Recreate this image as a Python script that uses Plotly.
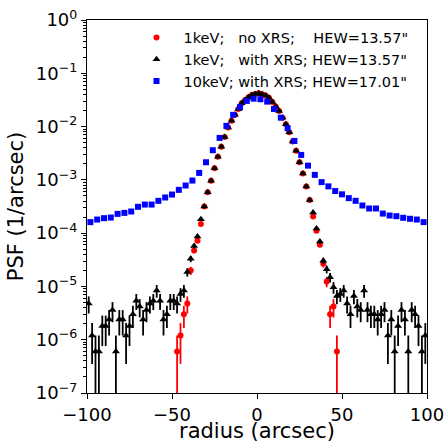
import numpy as np
import plotly.graph_objects as go

# ---------------- data ----------------
radius_2 = list(range(-99, 100, 2))          # 2-arcsec bins (1 keV curves)
radius_4 = list(range(-98, 99, 4))           # 4-arcsec bins (10 keV curve)

psf_1kev_xrs = [
    4.8e-6, 1.2e-6, 6.0e-7, 6.0e-7, 1.8e-6, 1.8e-6, 2.4e-6, 3.6e-6, 6.0e-7, 2.4e-6,
    2.4e-6, 1.2e-6, 1.8e-6, 3.0e-6, 5.4e-6, 4.2e-6, 2.4e-6, 3.6e-6, 4.8e-6, 5.4e-6,
    8.4e-6, 5.4e-6, 2.4e-6, 3.0e-6, 5.4e-6, 5.4e-6, 4.8e-6, 7.2e-6, 8.4e-6, 1.86e-5,
    3.30e-5, 5.71e-5, 8.65e-5, 1.83e-4, 3.15e-4, 5.87e-4, 9.57e-4, 1.66e-3, 2.70e-3, 4.16e-3,
    6.40e-3, 9.64e-3, 1.28e-2, 1.66e-2, 2.14e-2, 2.74e-2, 3.16e-2, 3.56e-2, 3.93e-2, 4.10e-2,
    4.22e-2, 4.04e-2, 3.81e-2, 3.49e-2, 2.90e-2, 2.39e-2, 1.97e-2, 1.47e-2, 1.11e-2, 7.84e-3,
    5.22e-3, 3.50e-3, 2.13e-3, 1.32e-3, 7.48e-4, 4.18e-4, 2.45e-4, 1.22e-4, 6.97e-5, 3.03e-5,
    2.11e-5, 1.49e-5, 9.7e-6, 6.6e-6, 7.2e-6, 8.4e-6, 4.8e-6, 3.0e-6, 6.6e-6, 4.2e-6,
    3.6e-6, 8.4e-6, 3.6e-6, 3.0e-6, 3.0e-6, 2.4e-6, 3.0e-6, 3.6e-6, 1.2e-6, 2.4e-6,
    6.0e-7, 1.8e-6, 3.6e-6, 2.4e-6, 6.0e-7, 3.6e-6, 3.0e-6, 1.8e-6, 6.0e-7, 1.2e-6,
]

psf_1kev_noxrs = [
    None, None, None, None, None, None, None, None, None, None,
    None, None, None, None, None, None, None, None, None, None,
    None, None, None, None, None, None, 6.0e-7, 1.2e-6, 3.0e-6, 4.8e-6,
    1.99e-5, 4.72e-5, 7.18e-5, 1.48e-4, 3.15e-4, 5.87e-4, 9.57e-4, 1.66e-3, 2.70e-3, 4.16e-3,
    6.40e-3, 9.64e-3, 1.28e-2, 1.66e-2, 2.14e-2, 2.74e-2, 3.16e-2, 3.56e-2, 3.93e-2, 4.10e-2,
    4.22e-2, 4.04e-2, 3.81e-2, 3.49e-2, 2.90e-2, 2.39e-2, 1.97e-2, 1.47e-2, 1.11e-2, 7.84e-3,
    5.22e-3, 3.50e-3, 2.13e-3, 1.32e-3, 7.48e-4, 4.18e-4, 2.05e-4, 1.11e-4, 6.04e-5, 2.66e-5,
    1.24e-5, 3.0e-6, 4.2e-6, 6.0e-7, None, None, None, None, None, None,
    None, None, None, None, None, None, None, None, None, None,
    None, None, None, None, None, None, None, None, None, None,
]

psf_10kev_xrs = [
    1.61e-4, 1.80e-4, 1.91e-4, 1.96e-4, 2.30e-4, 2.40e-4, 2.55e-4, 3.12e-4, 3.44e-4, 3.44e-4,
    4.04e-4, 4.67e-4, 5.30e-4, 6.49e-4, 7.83e-4, 9.70e-4, 1.35e-3, 2.14e-3, 3.60e-3, 6.12e-3,
    1.03e-2, 1.66e-2, 2.31e-2, 3.03e-2, 3.34e-2,
    3.26e-2, 2.94e-2, 2.14e-2, 1.47e-2, 9.31e-3, 5.38e-3, 2.94e-3, 1.85e-3, 1.24e-3, 9.06e-4,
    7.55e-4, 6.17e-4, 5.35e-4, 4.54e-4, 4.04e-4, 3.30e-4, 2.90e-4, 2.90e-4, 2.33e-4, 2.14e-4,
    2.08e-4, 1.94e-4, 1.86e-4, 1.80e-4, 1.61e-4,
]

count_unit = 6.0e-7   # value of a single count (Poisson error bars)

labels = ['1keV;\u00a0\u00a0\u00a0no XRS;\u00a0\u00a0\u00a0\u00a0HEW=13.57"',
          '1keV;\u00a0\u00a0\u00a0with XRS; HEW=13.57"',
          '10keV; with XRS; HEW=17.01"']

x_ticks = [-100, -50, 0, 50, 100]
x_ticktext = ['\u2212100', '\u221250', '0', '50', '100']
y_exps = [0, -1, -2, -3, -4, -5, -6, -7]


def errs(vals):
    up, dn = [], []
    for v in vals:
        if v is None:
            up.append(None); dn.append(None)
        else:
            e = float(np.sqrt(v * count_unit))
            up.append(e)
            dn.append(min(e, 0.999 * v))
    return up, dn


fig = go.Figure()

for vals, color, sym, size, name in [
    (psf_1kev_noxrs, '#ff0000', 'circle', 6, labels[0]),
    (psf_1kev_xrs, '#000000', 'triangle-up', 7, labels[1]),
]:
    up, dn = errs(vals)
    fig.add_trace(go.Scatter(
        x=radius_2, y=vals, mode='markers', name=name,
        marker=dict(color=color, symbol=sym, size=size, line=dict(width=0)),
        error_y=dict(type='data', array=up, arrayminus=dn, symmetric=False,
                     color=color, thickness=1.8, width=0),
    ))

fig.add_trace(go.Scatter(
    x=radius_4, y=psf_10kev_xrs, mode='markers', name=labels[2],
    marker=dict(color='#0000ff', symbol='square', size=6, line=dict(width=0)),
))

font_family = 'DejaVu Sans'
fig.update_layout(
    width=446, height=443,
    margin=dict(l=87, r=19, t=20, b=50, autoexpand=False),
    paper_bgcolor='white', plot_bgcolor='white',
    font=dict(family=font_family, color='black'),
    showlegend=True,
    legend=dict(x=0.125, y=0.996, xanchor='left', yanchor='top',
                bgcolor='rgba(0,0,0,0)', borderwidth=0,
                font=dict(size=14.5, family=font_family), itemwidth=44,
                tracegroupgap=0),
)
fig.update_xaxes(
    range=[-100, 100], showgrid=False, zeroline=False, automargin=False,
    showline=True, linecolor='black', linewidth=1.1, mirror=True,
    ticks='outside', ticklen=5, tickwidth=1.1, tickcolor='black',
    tickvals=x_ticks, ticktext=x_ticktext,
    tickfont=dict(size=18, family=font_family),
    title=dict(text='radius (arcsec)', font=dict(size=21, family=font_family), standoff=7),
)
fig.update_yaxes(
    type='log', range=[-7, 0], showgrid=False, zeroline=False, automargin=False,
    showline=True, linecolor='black', linewidth=1.1, mirror=True,
    ticks='outside', ticklen=5, tickwidth=1.1, tickcolor='black',
    tickvals=[10.0 ** e for e in y_exps],
    ticktext=['10<sup>%s</sup>' % (str(e).replace('-', '\u2212')) for e in y_exps],
    tickfont=dict(size=18, family=font_family),
    minor=dict(ticks='outside', ticklen=2.5, tickwidth=0.8, tickcolor='black', dtick='D1', showgrid=False),
    title=dict(text='PSF (1/arcsec)', font=dict(size=21, family=font_family), standoff=6),
)

fig.write_html('out.html')
